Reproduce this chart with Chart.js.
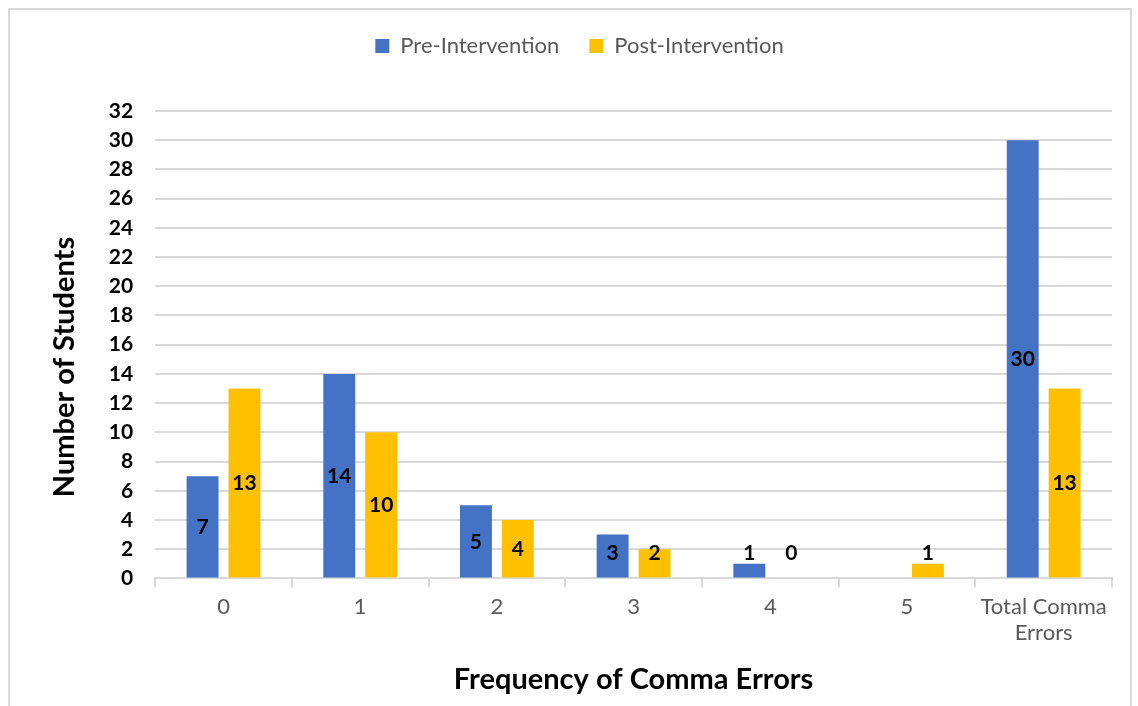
<!DOCTYPE html>
<html>
<head>
<meta charset="utf-8">
<script src="https://cdn.jsdelivr.net/npm/chart.js@4.4.0/dist/chart.umd.min.js"></script>
<style>
  html, body { margin: 0; padding: 0; background: #fff; }
  #wrap { position: relative; width: 1138px; height: 706px; overflow: hidden; }
  #frame { position: absolute; left: 8px; top: 8px; width: 1124px; height: 720px; border: 2px solid #d9d9d9; box-sizing: border-box; }
  canvas { position: absolute; left: 0; top: 0; }
</style>
</head>
<body>
<div id="wrap">
  <div id="frame"></div>
  <canvas id="grafico" width="1138" height="706"></canvas>
</div>
<script>
// dados do gráfico
const categorias = ["0", "1", "2", "3", "4", "5", ["Total Comma", "Errors"]];
const preIntervencao = [7, 14, 5, 3, 1, null, 30];
const posIntervencao = [13, 10, 4, 2, 0, 1, 13];
const nomesSeries = ["Pre-Intervention", "Post-Intervention"];
const tituloX = "Frequency of Comma Errors";
const tituloY = "Number of Students";

const fonte = "Lato, 'DejaVu Sans', sans-serif";

// rótulos no meio da barra (com altura mínima, como no Excel)
const rotulosPlugin = {
  id: "rotulos",
  afterDatasetsDraw(chart) {
    const ctx = chart.ctx;
    const y = chart.scales.y;
    ctx.save();
    ctx.font = "bold 21px " + fonte;
    ctx.fillStyle = "#000";
    ctx.textAlign = "center";
    ctx.textBaseline = "middle";
    chart.data.datasets.forEach((ds, i) => {
      const meta = chart.getDatasetMeta(i);
      meta.data.forEach((bar, j) => {
        const v = ds.data[j];
        if (v === null || v === undefined) return;
        const py = y.getPixelForValue(Math.max(v / 2, 1.7));
        ctx.fillText(String(v), bar.x, py);
      });
    });
    ctx.restore();
  }
};

// título do eixo Y centrado na altura do gráfico inteiro (como no Excel)
const tituloYPlugin = {
  id: "tituloY",
  afterDraw(chart) {
    const ctx = chart.ctx;
    ctx.save();
    ctx.translate(65, 367);
    ctx.rotate(-Math.PI / 2);
    ctx.font = "bold 29px " + fonte;
    ctx.fillStyle = "#000";
    ctx.textAlign = "center";
    ctx.textBaseline = "middle";
    ctx.fillText(tituloY, 0, 0);
    ctx.restore();
  }
};

// espaço extra entre a legenda e o gráfico
const espacoLegenda = {
  id: "espacoLegenda",
  beforeInit(chart) {
    const fitOriginal = chart.legend.fit;
    chart.legend.fit = function () {
      fitOriginal.call(this);
      this.height += 44;
    };
  }
};

new Chart(document.getElementById("grafico"), {
  type: "bar",
  data: {
    labels: categorias,
    datasets: [
      { label: nomesSeries[0], data: preIntervencao, backgroundColor: "#4472C4" },
      { label: nomesSeries[1], data: posIntervencao, backgroundColor: "#FFC000" }
    ]
  },
  options: {
    responsive: false,
    animation: false,
    categoryPercentage: 0.613,
    barPercentage: 0.762,
    layout: { padding: { top: 5, right: 26, bottom: 3, left: 47 } },
    plugins: {
      legend: {
        position: "top",
        labels: {
          boxWidth: 14, boxHeight: 14, padding: 30,
          color: "#595959",
          font: { family: fonte, size: 22 }
        }
      },
      tooltip: { enabled: false }
    },
    scales: {
      x: {
        grid: { offset: true, drawOnChartArea: false, color: "#d9d9d9", tickLength: 9, lineWidth: 2 },
        border: { color: "#d9d9d9", width: 2 },
        ticks: { color: "#595959", font: { family: fonte, size: 22 }, padding: 6, maxRotation: 0 },
        title: { display: true, text: tituloX, color: "#000", font: { family: fonte, size: 29, weight: "bold" }, padding: { top: 10, bottom: 6 } }
      },
      y: {
        min: 0, max: 32,
        ticks: { stepSize: 2, color: "#000", font: { family: fonte, size: 21, weight: "bold" }, padding: 22 },
        grid: { color: "#d9d9d9", lineWidth: 2, drawTicks: false },
        border: { display: false },
        // o espaço do título fica reservado; o texto é desenhado pelo plugin
        title: { display: true, text: tituloY, color: "rgba(0,0,0,0)", font: { family: fonte, size: 29, weight: "bold" }, padding: { top: 0, bottom: 5 } }
      }
    }
  },
  plugins: [rotulosPlugin, tituloYPlugin, espacoLegenda]
});
</script>
</body>
</html>
